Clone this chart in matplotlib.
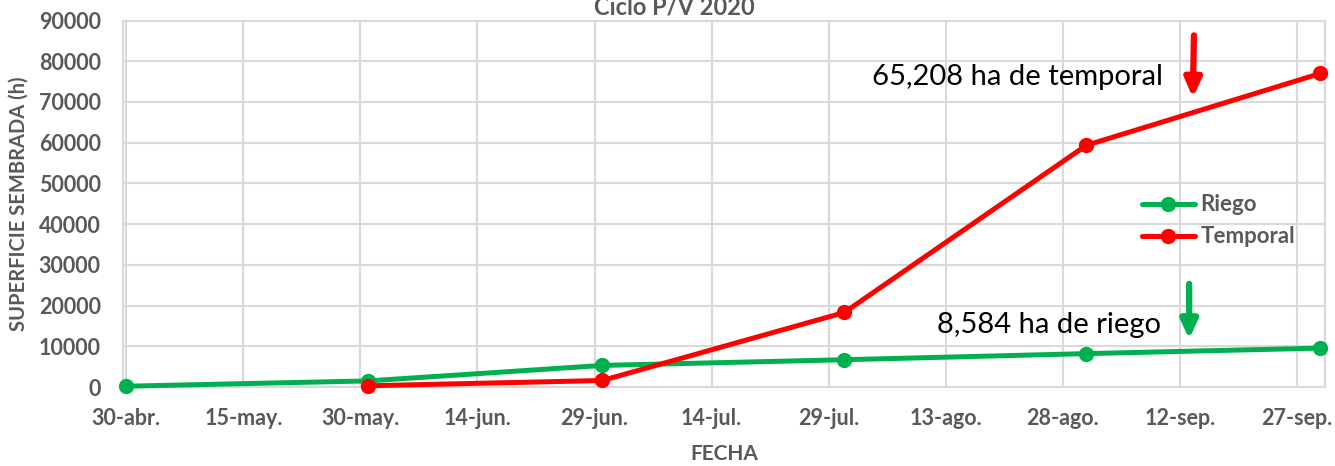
import matplotlib.pyplot as plt
import matplotlib.dates as mdates
import numpy as np

# Datos (Ciclo P/V 2020)
fechas = np.array(['2020-04-30', '2020-05-31', '2020-06-30', '2020-07-31',
                   '2020-08-31', '2020-09-30'], dtype='datetime64[D]')
riego = [200, 1500, 5300, 6700, 8200, 9550]
fechas_temporal = fechas[1:]
temporal = [300, 1600, 18300, 59350, 77000]

tick_fechas = np.arange(np.datetime64('2020-04-30'), np.datetime64('2020-10-01'), 15)
tick_labels = ['30-abr.', '15-may.', '30-may.', '14-jun.', '29-jun.', '14-jul.',
               '29-jul.', '13-ago.', '28-ago.', '12-sep.', '27-sep.']

gris = '#595959'
rejilla = '#d9d9d9'
verde = '#00b050'
rojo = '#ff0000'

plt.rcParams['font.family'] = ['Lato', 'DejaVu Sans']

fig = plt.figure(figsize=(13.35, 4.66), dpi=100)
ax = fig.add_axes([0.0921, 0.1695, 0.9004, 0.7865])

ax.plot(fechas.astype('O'), riego, color=verde, lw=3.6, marker='o', ms=10,
        label='Riego', zorder=3, solid_capstyle='round', clip_on=False)
ax.plot(fechas_temporal.astype('O'), temporal, color=rojo, lw=3.6, marker='o', ms=10,
        label='Temporal', zorder=4, solid_capstyle='round', clip_on=False)

ax.set_ylim(0, 90000)
ax.set_yticks(range(0, 90001, 10000))
ax.set_xlim(mdates.date2num(np.datetime64('2020-04-30')) - 0.42,
            mdates.date2num(np.datetime64('2020-09-30')) + 0.58)
ax.set_xticks(tick_fechas.astype('O'))
ax.set_xticklabels(tick_labels)

ax.grid(True, color=rejilla, lw=1.5, zorder=0)
ax.set_axisbelow(True)
for s in ax.spines.values():
    s.set_color(rejilla)
    s.set_linewidth(1.5)
ax.tick_params(length=0, labelsize=15.5, labelcolor=gris)
ax.tick_params(axis='y', pad=16)
ax.tick_params(axis='x', pad=15)
for lab in ax.get_xticklabels() + ax.get_yticklabels():
    lab.set_fontweight('bold')

ax.set_ylabel('SUPERFICIE SEMBRADA (h)', fontsize=14.5, fontweight='bold', color=gris, labelpad=7)
ax.set_xlabel('FECHA', fontsize=15, fontweight='bold', color=gris, labelpad=11)
fig.text(0.505, 0.968, 'Ciclo P/V 2020', ha='center', va='baseline', fontsize=17,
         fontweight='bold', color=gris)

leg = ax.legend(loc='upper left', bbox_to_anchor=(0.840, 0.55), frameon=False,
                fontsize=16, handlelength=2.4, handletextpad=0.25, labelspacing=0.5,
                borderaxespad=0)
for t in leg.get_texts():
    t.set_color(gris)
    t.set_fontweight('bold')

# anotaciones
ax.text(0.623, 0.845, '65,208 ha de temporal', transform=ax.transAxes, fontsize=21,
        color='black', va='center')
ax.text(0.677, 0.17, '8,584 ha de riego', transform=ax.transAxes, fontsize=21,
        color='black', va='center')
ax.annotate('', xy=(0.890, 0.782), xytext=(0.891, 0.967), xycoords='axes fraction',
            arrowprops=dict(arrowstyle='-|>,head_width=0.5,head_length=1.1', color=rojo, lw=4.5))
ax.annotate('', xy=(0.887, 0.123), xytext=(0.887, 0.289), xycoords='axes fraction',
            arrowprops=dict(arrowstyle='-|>,head_width=0.5,head_length=1.1', color=verde, lw=4.5))

fig.savefig('out.png', dpi=100)
